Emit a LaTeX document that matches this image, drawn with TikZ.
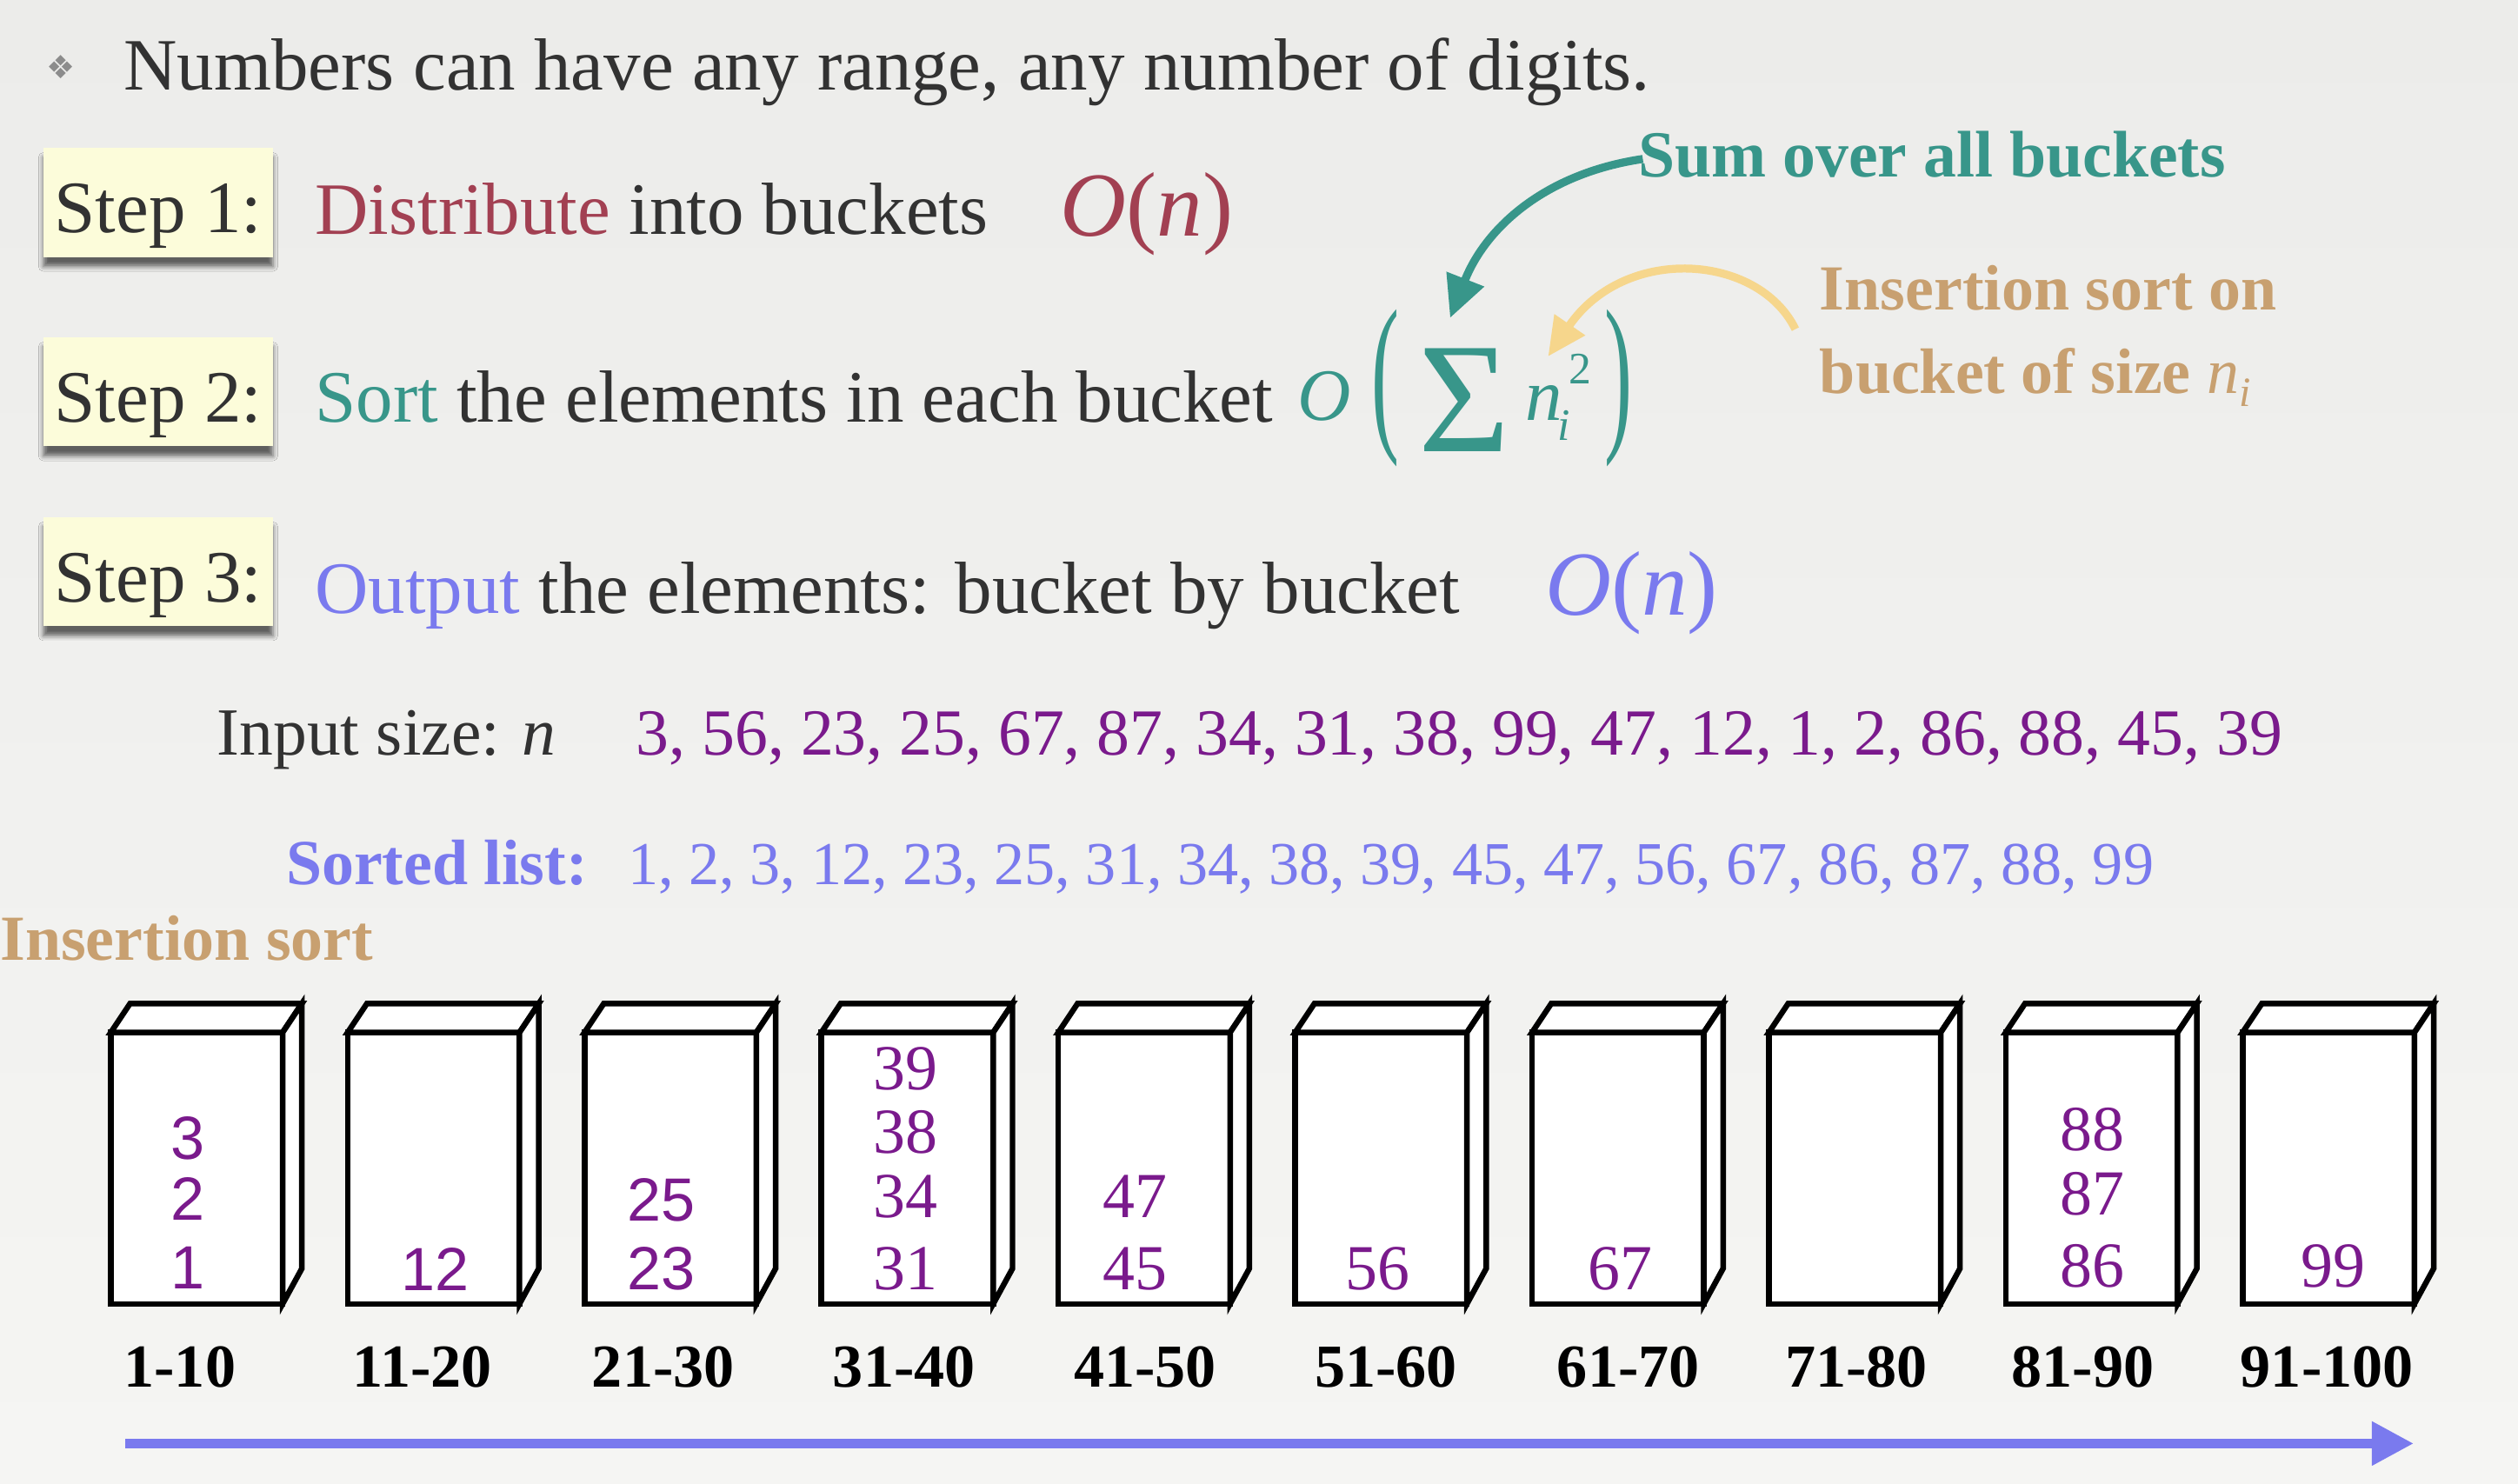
\documentclass[tikz,border=0pt]{standalone}
\usepackage{fontspec}
\setmainfont{Liberation Serif}
\newfontfamily\lsans{Liberation Sans}
\newfontfamily\djv{DejaVu Sans}
\usetikzlibrary{arrows.meta,shadows.blur}
\newcommand{\fsz}[1]{\fontsize{#1}{#1}\selectfont}
\definecolor{maroonc}{RGB}{162,64,82}
\definecolor{tealc}{RGB}{56,150,138}
\definecolor{peric}{RGB}{122,122,238}
\definecolor{purpc}{RGB}{122,26,140}
\definecolor{tanc}{RGB}{200,160,112}
\definecolor{lyelc}{RGB}{246,214,140}
\definecolor{creamc}{RGB}{252,252,218}
\definecolor{darkc}{RGB}{50,50,50}
\begin{document}
\begin{tikzpicture}[x=1pt,y=-1pt,
  txt/.style={inner sep=0pt, anchor=base west},
  stepbox/.style={fill=creamc, inner sep=0pt, outer sep=0pt, minimum width=143pt,
    text height=53pt, text depth=15pt, anchor=base west, font=\fsz{46}, text=darkc,
    blur shadow={shadow xshift=0pt, shadow yshift=-6pt, shadow blur radius=3pt, shadow opacity=60}},
  front/.style={draw=black, fill=white, line width=3.5pt, inner sep=0pt, outer sep=0pt,
    minimum width=107pt, minimum height=169pt},
  edge/.style={draw=black, fill=white, line width=3.5pt},
  lab/.style={inner sep=0pt, anchor=base, font=\bfseries\fsz{38}, text=black},
  bnum/.style={inner sep=0pt, anchor=south, align=center, text=purpc},
  tarrow/.style={draw=tealc, line width=5pt, -{Triangle[length=26pt,width=24pt]}},
  yarrow/.style={draw=lyelc, line width=5pt, -{Triangle[length=24pt,width=22pt]}},
  parrow/.style={draw=peric, line width=6pt, -{Triangle[length=26pt,width=26pt]}}
]
\shade[top color={rgb,255:red,236;green,236;blue,234}, bottom color={rgb,255:red,245;green,245;blue,243}]
  (0,0) rectangle (1568,924);
\useasboundingbox (0,0) rectangle (1568,924);

% title line
\node[inner sep=0pt, text=black!45, font=\djv\fsz{20}] (bul) at (38,42) {❖};
\node[txt, font=\fsz{46}, text=darkc] (title) at (77,56) {Numbers can have any range, any number of digits.};

% step 1
\node[stepbox] (s1) at (27,145) {Step 1:};
\node[txt, font=\fsz{46}, text=darkc] (d1) at (196,146) {\textcolor{maroonc}{Distribute} into buckets};
\node[txt, font=\fsz{57}, text=maroonc] (o1) at (660,147) {\textit{O}(\textit{n})};

% step 2
\node[stepbox] (s2) at (27,263) {Step 2:};
\node[txt, font=\fsz{46}, text=darkc] (d2) at (196,263) {\textcolor{tealc}{Sort} the elements in each bucket};
\node[txt, font=\itshape\fsz{46}, text=tealc] (o2) at (808,262) {O};
\node[inner sep=0pt, font=\fsz{40}, text=tealc] (lp) at (863,242) {\scalebox{1.3}[2.7]{(}};
\node[inner sep=0pt, anchor=base, font=\fsz{98}, text=tealc] (sig) at (912,281) {Σ};
\node[txt, font=\itshape\fsz{46}, text=tealc] (nn) at (950,262) {n};
\node[txt, font=\fsz{28}, text=tealc] (sup) at (977,239) {2};
\node[txt, font=\itshape\fsz{28}, text=tealc] (sub) at (970,274) {i};
\node[inner sep=0pt, font=\fsz{40}, text=tealc] (rp) at (1008,242) {\scalebox{1.3}[2.7]{)}};

% step 3
\node[stepbox] (s3) at (27,375) {Step 3:};
\node[txt, font=\fsz{46}, text=darkc] (d3) at (196,382) {\textcolor{peric}{Output} the elements: bucket by bucket};
\node[txt, font=\fsz{57}, text=peric] (o3) at (962,383) {\textit{O}(\textit{n})};

% annotations
\node[txt, font=\bfseries\fsz{41}, text=tealc] (sum) at (1020,110) {Sum over all buckets};
\node[txt, font=\bfseries\fsz{40}, text=tanc] (ins1) at (1133,193) {Insertion sort on};
\node[txt, font=\bfseries\fsz{40}, text=tanc] (ins2) at (1133,245) {bucket of size \textmd{\textit{n}}\raisebox{-8pt}{\fsz{26}\textmd{\textit{i}}}};
\coordinate (tS) at (1023,99);
\coordinate (tE) at (903,198);
\draw[tarrow] (tS) .. controls (962,108) and (925,142) .. (tE);
\coordinate (yS) at (1118,205);
\coordinate (yE) at (964,222);
\draw[yarrow] (yS) .. controls (1095,158) and (1012,152) .. (yE);

% input / sorted
\node[txt, font=\fsz{42}, text=darkc] (inp) at (135,470) {Input size: \textit{n}};
\node[txt, font=\fsz{41}, text=purpc] (inl) at (396,470) {3, 56, 23, 25, 67, 87, 34, 31, 38, 99, 47, 12, 1, 2, 86, 88, 45, 39};
\node[txt, font=\bfseries\fsz{40}, text=peric] (srt) at (178,551) {Sorted list:};
\node[txt, font=\fsz{38}, text=peric] (srl) at (391,551) {1, 2, 3, 12, 23, 25, 31, 34, 38, 39, 45, 47, 56, 67, 86, 87, 88, 99};
\node[txt, font=\bfseries\fsz{40}, text=tanc] (isl) at (0,598) {Insertion sort};

% buckets
\foreach \i/\lab/\lx in {0/1-10/112, 1/11-20/263, 2/21-30/413, 3/31-40/563, 4/41-50/713,
    5/51-60/863, 6/61-70/1014, 7/71-80/1156, 8/81-90/1297, 9/91-100/1449} {
  \node[front] (b\i) at ({122.5+147.5*\i},727.5) {};
  \draw[edge] (b\i.north west) -- ++(12,-18) -- ++(107,0) -- (b\i.north east) -- cycle;
  \draw[edge] (b\i.north east) -- ++(12,-18) -- ++(0,165) -- (b\i.south east) -- cycle;
  \node[lab] (l\i) at (\lx,864) {\lab};
}

\node[bnum, font=\lsans\fsz{38}] (c0) at (117,803) {3\\2\\[5pt]1};
\node[bnum, font=\lsans\fsz{38}] (c1) at (271,804) {12};
\node[bnum, font=\lsans\fsz{38}] (c2) at (412,804) {25\\[5pt]23};
\node[bnum, font=\fsz{40}] (c3) at (564,804) {39\\38\\34\\[5pt]31};
\node[bnum, font=\fsz{40}] (c4) at (707,804) {47\\[5pt]45};
\node[bnum, font=\fsz{40}] (c5) at (858,804) {56};
\node[bnum, font=\fsz{40}] (c6) at (1009,804) {67};
\node[bnum, font=\fsz{40}] (c8) at (1303,802) {88\\87\\[5pt]86};
\node[bnum, font=\fsz{40}] (c9) at (1453,802) {99};

% bottom arrow
\coordinate (aS) at (78,899);
\coordinate (aE) at (1503,899);
\draw[parrow] (aS) -- (aE);
\end{tikzpicture}
\end{document}
